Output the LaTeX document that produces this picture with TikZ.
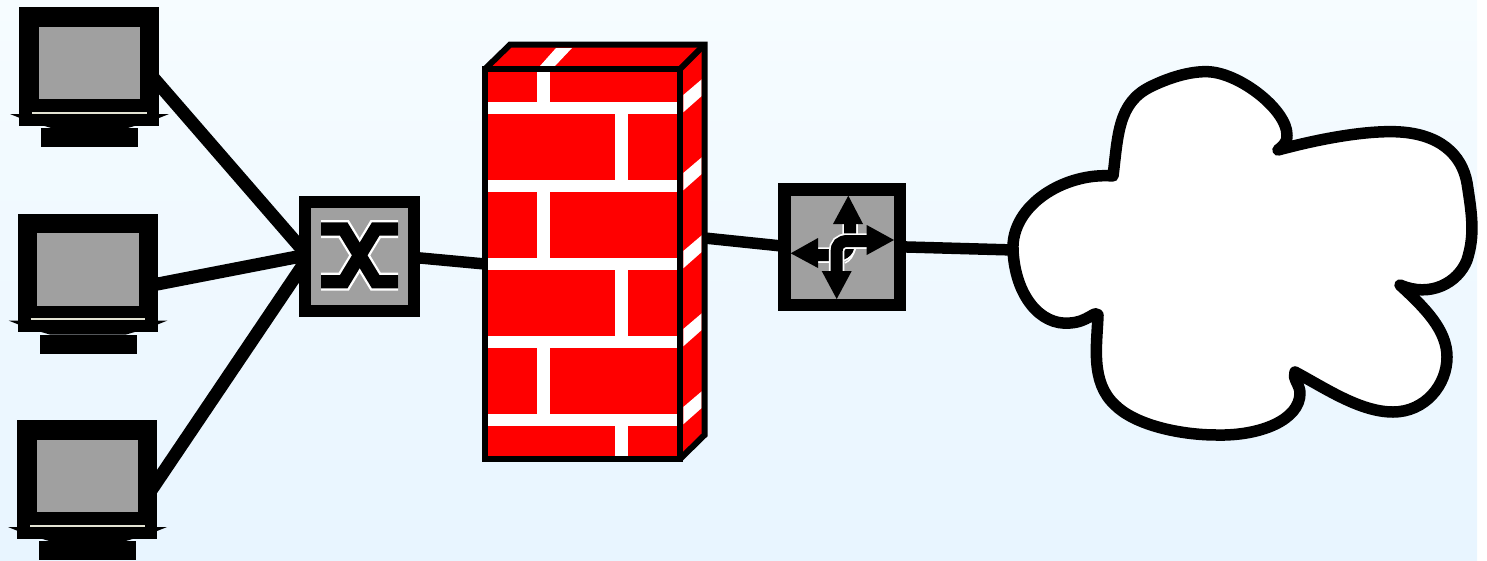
\documentclass[tikz,border=0pt]{standalone}
\definecolor{bgtop}{HTML}{F6FCFF}
\definecolor{bgbot}{HTML}{E8F5FF}
\definecolor{scr}{HTML}{A0A0A0}
\definecolor{lineglint}{HTML}{E2E2D2}
\tikzset{
  link/.style={line width=13pt,draw=black},
  shortlink/.style={line width=11.5pt,draw=black},
  monbody/.style={rectangle,fill=black,draw=none,inner sep=0pt,outer sep=0pt,minimum width=140pt,minimum height=118.4pt},
  monscreen/.style={rectangle,fill=scr,draw=none,inner sep=0pt,outer sep=0pt,minimum width=101.3pt,minimum height=72.6pt},
  netbox/.style={rectangle,fill=scr,draw=black,inner sep=0pt,outer sep=0pt},
  glyphwhite/.style={draw=white,line width=18pt,line join=miter},
  glyphblack/.style={draw=black,line width=13.3pt,line join=miter},
  routerwhite/.style={draw=white,line width=15.5pt},
  routerblack/.style={draw=black,line width=12pt},
  mortar/.style={fill=white,draw=none},
}
\newcommand{\monitorat}[3]{%
  \begin{scope}[shift={(#1,#2)}]
    \node[monbody] (#3) at (89.3,66.5) {};
    \node[monscreen] (#3s) at (89.35,63) {};
    \fill[black] (10,114)--(20,114)--(20,118)--cycle;
    \fill[black] (169,114)--(159,114)--(159,118)--cycle;
    \fill[black] (41,125)--(52,128.2)--(127,128.2)--(138,125)--cycle;
    \fill[black] (41,128)rectangle(138,147);
    \draw[lineglint,line width=1.8pt] (32,112.7)--(146.7,112.7);
  \end{scope}}
\begin{document}
\begin{tikzpicture}[x=1pt,y=-1pt]
\useasboundingbox (0,0) rectangle (1487,560);
\shade[top color=bgtop,bottom color=bgbot] (0,0) rectangle (1477,560);
% computers
\monitorat{0}{0}{pcone}
\monitorat{-1.5}{206.5}{pctwo}
\monitorat{-2}{413}{pcthree}
% switch
\node[netbox,line width=12.5pt,minimum width=109pt,minimum height=108.7pt] (sw) at (359.3,256.4) {};
\draw[glyphwhite] (321,229)--(343.7,229)--(375.7,281.7)--(398,281.7);
\draw[glyphwhite] (398,229)--(375.7,229)--(343.7,281.7)--(321,281.7);
\draw[glyphblack] (321,229)--(343.7,229)--(375.7,281.7)--(398,281.7);
\draw[glyphblack] (398,229)--(375.7,229)--(343.7,281.7)--(321,281.7);
% firewall
\fill[red] (485,69)--(510,44.7)--(704.5,44.7)--(704.5,435)--(680,459)--(680,69)--cycle;
\fill[mortar] (540,66)--(555,66)--(572,48)--(556,48)--cycle;
\foreach \s in {0,78,156,234,312}{
  \fill[mortar] (683.3,95+\s)--(701.7,79.3+\s)--(701.7,96+\s)--(683.3,112.3+\s)--cycle;
}
\draw[black,line width=6pt,line join=miter] (485,69)--(510,44.7)--(704.5,44.7)--(704.5,435)--(680,459);
\draw[black,line width=6pt] (680,69)--(704.5,44.7);
\node[rectangle,fill=red,draw=black,line width=6pt,inner sep=0pt,outer sep=0pt,minimum width=195pt,minimum height=390pt] (fw) at (582.5,264) {};
\foreach \s in {102,180,258,336,414}{
  \fill[mortar] (488,\s) rectangle (677,\s+12);
}
\foreach \a/\b in {72/102,192/258,348/414}{
  \fill[mortar] (537.3,\a) rectangle (549.7,\b);
}
\foreach \a/\b in {114/180,270/336,426/456}{
  \fill[mortar] (615,\a) rectangle (627.7,\b);
}
\coordinate (fwside) at (704.5,238);
% router
\node[netbox,line width=12.5pt,minimum width=115.5pt,minimum height=115.3pt] (rt) at (842.3,247.3) {};
\draw[routerwhite] (850,222)--(850,238) .. controls (850,250) and (845,255) .. (835,255)--(816,255);
\draw[routerblack] (850,222)--(850,238) .. controls (850,250) and (845,255) .. (835,255)--(816,255);
\draw[routerwhite] (868,241)--(848,241) .. controls (840,241) and (836.5,245) .. (836.5,252)--(836.5,273);
\draw[routerblack] (868,241)--(848,241) .. controls (840,241) and (836.5,245) .. (836.5,252)--(836.5,273);
\draw[white,line width=1.5pt] (845,263) .. controls (850,261) and (854,255) .. (855,248);
\fill[black] (848.3,195.7)--(833,224)--(863,224)--cycle;
\fill[black] (894,240)--(866.7,225)--(866.7,255)--cycle;
\fill[black] (790.7,253.3)--(818,238)--(818,268)--cycle;
\fill[black] (836.7,299)--(821.7,271)--(851.7,271)--cycle;
% connectors
\coordinate (cloudport) at (1014,250);
\draw[link] ([xshift=-8pt,yshift=-9pt]pcone.east) -- ([yshift=4pt]sw.west);
\draw[link] ([xshift=-8pt,yshift=-12.5pt]pctwo.east) -- ([yshift=1pt]sw.west);
\draw[link] ([xshift=-8pt,yshift=-13.5pt]pcthree.east) -- ([yshift=-6pt]sw.west);
\draw[shortlink] ([yshift=-1pt]sw.east) -- (fw.west);
\draw[shortlink] (fwside) -- ([yshift=1pt]rt.west);
\draw[shortlink] ([yshift=0.5pt]rt.east) -- (cloudport);
% cloud
\draw[black,fill=white,line width=11.5pt,line join=round]
  (1113,176) .. controls (1118,135) and (1118,103) .. (1150,87)
  .. controls (1168,78) and (1190,71) .. (1208,71.7)
  .. controls (1240,73) and (1287,110) .. (1287,135)
  .. controls (1287.5,142) and (1284,145) .. (1278,150)
  .. controls (1330,136) and (1370,131) .. (1395,131.7)
  .. controls (1440,133) and (1462,155) .. (1467,183)
  .. controls (1472,215) and (1475,235) .. (1467,260)
  .. controls (1458,283) and (1430,298) .. (1400,285)
  .. controls (1425,308) and (1447,330) .. (1447,357)
  .. controls (1447,385) and (1425,412) .. (1393,412)
  .. controls (1360,412) and (1325,388) .. (1295,372)
  .. controls (1292,378) and (1300,385) .. (1300,393)
  .. controls (1300,420) and (1260,436) .. (1217,435)
  .. controls (1180,435) and (1135,425) .. (1115,405)
  .. controls (1090,382) and (1097,345) .. (1098,315)
  .. controls (1095,310) and (1088,322) .. (1070,323)
  .. controls (1040,326) and (1015,295) .. (1013,250)
  .. controls (1011,205) and (1065,172) .. (1113,176) -- cycle;
\end{tikzpicture}
\end{document}
